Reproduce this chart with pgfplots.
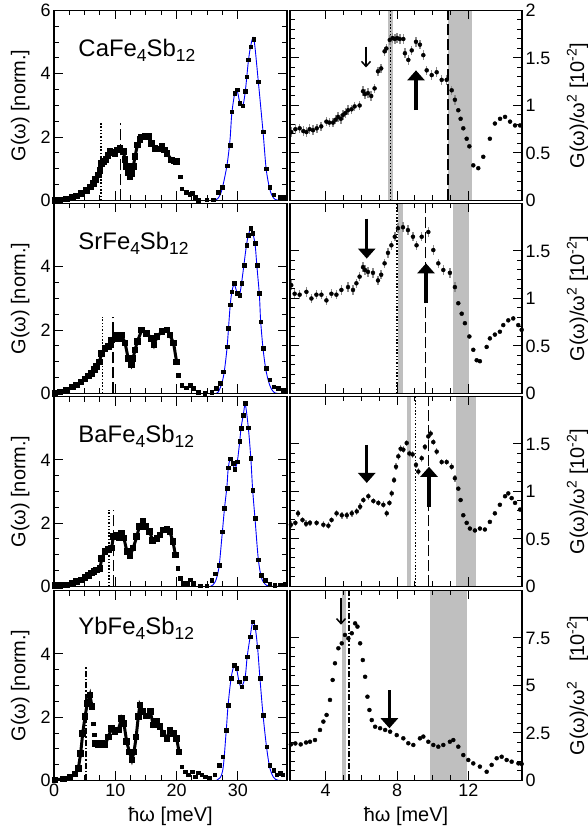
\documentclass[border=0pt]{standalone}
\usepackage{fontspec}
\setmainfont{Liberation Sans}
\usepackage{pgfplots}
\pgfplotsset{compat=1.18}
\usetikzlibrary{arrows.meta}

\newcommand{\sub}[1]{\raisebox{-0.22em}{\fontsize{17.5}{17.5}\selectfont #1}}
\newcommand{\cmp}[1]{\fontsize{24}{24}\selectfont #1Fe\sub{4}Sb\sub{12}}

\tikzset{
  big/.style={line width=3.5bp, -{Triangle[length=10bp,width=17bp]}},
  small/.style={line width=1.5bp, -{Straight Barb[length=5bp,width=9bp]}},
  dsh/.style={line width=1.6bp, dash pattern=on 11bp off 4bp},
  dtt/.style={line width=1.5bp, dash pattern=on 1.5bp off 1.8bp},
  ddt/.style={line width=1.4bp, dash pattern=on 6bp off 2bp on 1.5bp off 2bp},
}

\pgfplotsset{
  panel/.style={
    scale only axis, height=190bp, axis on top,
    axis line style={line width=1.3bp},
    every tick/.style={line width=1bp, black},
    major tick length=9bp, minor tick length=5bp,
    tick label style={font=\fontsize{18}{18}\selectfont},
    label style={font=\fontsize{20}{20}\selectfont},
    /pgf/number format/assume math mode=true,
    ymin=0,
  },
  leftp/.style={panel, width=233bp, xmin=0, xmax=38, ymax=6,
    xtick={0,10,20,30}, minor x tick num=3,
    ytick={0,2,4}, minor y tick num=3,
    ylabel={G(ω) [norm.]},
    ylabel style={at={(axis description cs:-0.145,0.5)}, anchor=center},
  },
  rightp/.style={panel, width=232bp, xmin=2, xmax=15,
    xtick={4,8,12}, minor x tick num=3,
    yticklabel pos=right, ytick pos=both,
    ylabel style={at={(axis description cs:1.24,0.5)}, anchor=center},
  },
  dense/.style={black, line width=3bp, mark=square*, mark size=1.8bp},
  sparse/.style={black, only marks, mark=square*, mark size=1.8bp},
  fit/.style={blue, line width=0.9bp, smooth, no marks},
  pts/.style={black, only marks, mark=*, mark size=2bp},
  errpts/.style={pts, error bars/.cd, y dir=both, y fixed=#1, error mark=none,
    error bar style={black!45, line width=1.5bp}, /pgfplots/.cd},
  errpts/.default=0.05,
}

\begin{document}
\begin{tikzpicture}
\useasboundingbox (0,0) rectangle (588bp,838bp);

% ---------------- row 1: CaFe4Sb12 ----------------
\begin{axis}[leftp, at={(54bp,637.5bp)}, anchor=south west,
  ytick={0,2,4,6}, xticklabels={}]
  \draw[dtt] (axis cs:7.65,0) -- (axis cs:7.65,2.44);
  \draw[dsh] (axis cs:10.85,0) -- (axis cs:10.85,2.44);
  \addplot[dense] coordinates {
    (0.16,0) (1.0,0.02) (2.07,0.05) (3.0,0.1) (3.7,0.14) (4.5,0.22) (5.33,0.31) (6.0,0.42)
    (6.4,0.54) (6.8,0.66) (7.23,0.8) (7.5,0.95) (7.77,1.17) (8.1,1.24) (8.48,1.3) (8.8,1.42)
    (9.13,1.54) (9.5,1.52) (9.95,1.49) (10.4,1.6) (10.77,1.65) (11.3,1.54) (11.6,1.3) (11.86,1.07)
    (12.1,0.88) (12.4,0.75) (12.7,0.85) (12.94,1.07) (13.2,1.38) (13.6,1.75) (14.0,1.93) (14.3,2.0)
    (14.9,2.02) (15.4,2.03) (15.9,1.8) (16.5,1.65) (17.0,1.62) (17.6,1.7) (18.0,1.6) (18.4,1.49)
    (19.2,1.28) (19.6,1.25) (20.0,1.23)};
  \addplot[fit] coordinates {
    (24,0) (26,0) (26.8,0.08) (27.4,0.35) (28.2,1.1) (28.7,1.9) (29.0,2.75) (29.5,3.4) (29.9,3.45)
    (30.3,3.1) (30.8,3.0) (31.2,3.45) (31.7,4.4) (32.1,4.9) (32.6,5.1) (33.3,3.8) (34.1,2.15)
    (34.6,1.0) (35.2,0.35) (35.8,0.08) (36.5,0.01) (38,0)};
  \addplot[sparse] coordinates {
    (20.55,0.75) (20.8,0.37) (21.6,0.26) (22.1,0.2) (22.5,0.23) (23.0,0.1) (23.5,0) (24.9,0.02)
    (26.0,0.02) (26.8,0.26) (27.4,0.42) (28.2,1.1) (28.7,1.75) (29.0,2.8) (29.5,3.39) (29.9,3.5)
    (30.3,3.07) (30.8,2.99) (31.2,3.45) (31.4,3.91) (31.7,4.44) (32.1,4.86) (32.6,5.09) (33.3,3.75)
    (34.1,2.17) (34.6,1.0) (35.2,0.42) (35.8,0.18) (36.9,0.11) (37.4,0.11)};
  \node[anchor=west] at (rel axis cs:0.09,0.79) {\cmp{Ca}};
\end{axis}

\begin{axis}[rightp, at={(290bp,637.5bp)}, anchor=south west,
  ymax=2, ytick={0,0.5,1,1.5,2}, minor y tick num=4, xticklabels={},
  ylabel={G(ω)/ω\textsuperscript{2} [10\textsuperscript{-2}]}]
  \fill[black!25] (axis cs:7.51,0) rectangle (axis cs:7.75,2);
  \fill[black!25] (axis cs:10.85,0) rectangle (axis cs:12.2,2);
  \draw[dtt] (axis cs:7.63,0) -- (axis cs:7.63,2);
  \draw[dsh] (axis cs:10.85,0) -- (axis cs:10.85,2);
  \addplot[errpts] coordinates {
    (2.07,0.72) (2.3,0.75) (2.54,0.76) (2.75,0.73) (2.92,0.72) (3.1,0.75) (3.29,0.74) (3.5,0.76)
    (3.75,0.78) (4.04,0.83) (4.2,0.82) (4.41,0.82) (4.55,0.85) (4.69,0.88) (4.85,0.86) (4.97,0.9)
    (5.1,0.92) (5.25,0.95) (5.45,0.96) (5.62,0.99) (5.9,1.0) (6.09,1.15) (6.2,1.12) (6.37,1.13)
    (6.55,1.1) (6.74,1.18) (6.93,1.36) (7.11,1.39) (7.3,1.57) (7.4,1.6) (7.59,1.69) (7.75,1.71)
    (7.87,1.7) (8.0,1.71) (8.15,1.7) (8.35,1.7) (8.44,1.55) (8.63,1.48) (8.82,1.58) (9.06,1.67)
    (9.28,1.64) (9.47,1.53) (9.66,1.37) (9.94,1.32) (10.22,1.35) (10.5,1.27) (10.78,1.27)
    (11.06,1.16) (11.24,1.06)};
  \addplot[pts] coordinates {
    (11.43,0.95) (11.56,0.86) (11.71,0.76) (11.9,0.65) (12.05,0.57) (12.27,0.37) (12.55,0.34)
    (12.83,0.46) (13.2,0.65) (13.48,0.81) (13.77,0.86) (14.05,0.88) (14.33,0.83) (14.61,0.79)
    (14.89,0.79)};
  \draw[small] (axis cs:6.26,1.62) -- (axis cs:6.26,1.4);
  \draw[big] (axis cs:9.06,0.95) -- (axis cs:9.06,1.37);
\end{axis}

% ---------------- row 2: SrFe4Sb12 ----------------
\begin{axis}[leftp, at={(54bp,444.5bp)}, anchor=south west, xticklabels={}]
  \draw[dtt] (axis cs:7.95,0) -- (axis cs:7.95,2.4);
  \draw[dsh] (axis cs:9.6,0) -- (axis cs:9.6,2.4);
  \addplot[dense] coordinates {
    (0.16,0) (1.0,0.05) (2.07,0.11) (3.0,0.2) (3.7,0.27) (4.4,0.36) (5.06,0.46) (5.6,0.55)
    (6.15,0.64) (6.6,0.75) (6.96,0.85) (7.39,1.0) (7.78,1.27) (8.32,1.43) (8.86,1.48) (9.4,1.69)
    (9.95,1.85) (10.5,1.74) (11.0,1.85) (11.6,1.59) (12.1,1.11) (12.6,0.9) (12.9,1.11) (13.2,1.37)
    (13.6,1.64) (14.3,2.0) (15.1,1.9) (15.9,1.74) (16.3,1.53) (16.8,1.8) (17.6,1.95) (18.4,2.0)
    (18.9,1.85) (19.5,1.59) (20.0,1.0)};
  \addplot[fit] coordinates {
    (24,0) (26,0) (26.8,0.05) (27.6,0.5) (28.2,1.4) (28.7,2.7) (29.0,3.2) (29.4,3.45) (29.9,3.15)
    (30.3,3.15) (30.6,3.5) (31.0,4.1) (31.4,4.7) (31.7,5.0) (32.1,5.22) (32.4,5.08) (32.8,4.7)
    (33.1,4.0) (33.5,3.1) (33.7,2.3) (34.1,1.4) (34.6,0.7) (35.2,0.25) (35.8,0.05) (36.5,0) (38,0)};
  \addplot[sparse] coordinates {
    (20.3,0.58) (20.8,0.27) (21.6,0.18) (22.2,0.27) (22.7,0.16) (23.5,0.05) (24.6,0) (25.7,0.05)
    (26.5,0.16) (27.1,0.32) (27.6,0.69) (28.2,1.48) (28.4,2.06) (28.7,2.8) (29.0,3.22) (29.4,3.48)
    (29.9,3.17) (30.3,3.11) (30.6,3.48) (31.0,4.06) (31.4,4.69) (31.7,5.0) (32.1,5.22) (32.4,5.06)
    (32.8,4.74) (33.1,4.06) (33.5,3.17) (33.7,2.27) (34.1,1.43) (34.6,0.8) (35.2,0.43) (35.8,0.22)
    (36.6,0.16) (37.4,0.11)};
  \node[anchor=west] at (rel axis cs:0.09,0.79) {\cmp{Sr}};
\end{axis}

\begin{axis}[rightp, at={(290bp,444.5bp)}, anchor=south west,
  ymax=2, ytick={0,0.5,1,1.5}, minor y tick num=4, xticklabels={},
  ylabel={G(ω)/ω\textsuperscript{2} [10\textsuperscript{-2}]}]
  \fill[black!25] (axis cs:8.07,0) rectangle (axis cs:8.35,2);
  \fill[black!25] (axis cs:11.15,0) rectangle (axis cs:12.05,2);
  \draw[dtt] (axis cs:8.0,0) -- (axis cs:8.0,2);
  \draw[dsh] (axis cs:9.6,0) -- (axis cs:9.6,2);
  \addplot[errpts] coordinates {
    (2.07,1.14) (2.26,1.05) (2.54,1.04) (2.92,1.07) (3.2,1.0) (3.48,1.04) (3.76,1.04) (4.04,0.98)
    (4.32,1.05) (4.6,1.04) (4.88,1.09) (5.25,1.12) (5.53,1.09) (5.72,1.16) (5.9,1.23) (6.09,1.33)
    (6.2,1.3) (6.37,1.28) (6.65,1.27) (6.93,1.19) (7.11,1.25) (7.3,1.37) (7.49,1.48) (7.68,1.56)
    (7.87,1.65) (8.05,1.74) (8.33,1.75) (8.61,1.72) (8.89,1.65) (9.09,1.56) (9.38,1.65) (9.75,1.70)
    (10.03,1.51) (10.31,1.37) (10.59,1.3) (10.96,1.27) (11.24,1.12)};
  \addplot[pts] coordinates {
    (11.43,0.95) (11.62,0.84) (11.8,0.74) (12.05,0.6) (12.27,0.46) (12.46,0.35) (12.64,0.34)
    (13.02,0.49) (13.2,0.58) (13.48,0.62) (13.76,0.65) (13.95,0.72) (14.23,0.77) (14.51,0.79)
    (14.79,0.72) (14.98,0.67)};
  \draw[big] (axis cs:6.3,1.84) -- (axis cs:6.3,1.42);
  \draw[big] (axis cs:9.62,0.95) -- (axis cs:9.62,1.37);
\end{axis}

% ---------------- row 3: BaFe4Sb12 ----------------
\begin{axis}[leftp, at={(54bp,251.5bp)}, anchor=south west, xticklabels={}]
  \draw[dtt] (axis cs:9.0,0) -- (axis cs:9.0,2.42);
  \draw[dsh] (axis cs:9.7,0) -- (axis cs:9.7,2.42);
  \addplot[dense] coordinates {
    (0.16,0.03) (1.0,0.04) (2.07,0.05) (3.0,0.1) (3.7,0.15) (4.4,0.2) (5.06,0.28) (5.6,0.35)
    (6.15,0.42) (6.5,0.48) (6.96,0.52) (7.5,0.57) (7.78,0.89) (8.32,1.1) (8.86,1.16) (9.4,1.21)
    (9.67,1.57) (10.1,1.63) (10.6,1.55) (11.0,1.68) (11.4,1.53) (11.9,1.1) (12.4,0.97) (12.9,1.21)
    (13.5,1.57) (13.9,1.89) (14.5,2.07) (15.0,1.89) (15.6,1.73) (16.1,1.45) (16.8,1.52) (17.3,1.63)
    (17.9,1.79) (18.4,1.82) (18.9,1.73) (19.4,1.42) (19.8,1.0)};
  \addplot[fit] coordinates {
    (24,0) (25.5,0) (26.3,0.15) (26.9,0.6) (27.4,1.6) (27.8,2.45) (28.2,3.15) (28.4,3.7) (28.7,4.0)
    (29.2,3.85) (29.5,3.72) (29.9,3.95) (30.3,4.6) (30.5,5.0) (30.9,5.45) (31.2,5.75) (31.7,5.0)
    (32.1,4.05) (32.4,3.05) (32.8,2.1) (33.3,0.9) (33.8,0.3) (34.4,0.08) (35.2,0.01) (38,0)};
  \addplot[sparse] coordinates {
    (20.2,0.57) (20.6,0.26) (21.1,0.1) (21.7,0.1) (22.2,0.22) (22.7,0.1) (23.8,0.02) (24.9,0.02)
    (25.7,0.2) (26.3,0.41) (26.9,0.68) (27.4,1.73) (27.8,2.47) (28.2,3.1) (28.4,3.75) (28.7,4.03)
    (29.2,3.89) (29.5,3.71) (29.9,3.94) (30.3,4.59) (30.5,5.0) (30.9,5.41) (31.2,5.78) (31.7,5.02)
    (32.1,4.05) (32.4,3.05) (32.8,2.15) (33.3,0.84) (33.8,0.36) (34.4,0.2) (35.2,0.07) (36.0,0.05)
    (36.9,0.06) (37.7,0.08)};
  \node[anchor=west] at (rel axis cs:0.09,0.79) {\cmp{Ba}};
\end{axis}

\begin{axis}[rightp, at={(290bp,251.5bp)}, anchor=south west,
  ymax=2, ytick={0,0.5,1,1.5}, minor y tick num=4, xticklabels={},
  ylabel={G(ω)/ω\textsuperscript{2} [10\textsuperscript{-2}]}]
  \fill[black!25] (axis cs:8.54,0) rectangle (axis cs:8.78,2);
  \fill[black!25] (axis cs:11.28,0) rectangle (axis cs:12.42,2);
  \draw[dtt] (axis cs:9.02,0) -- (axis cs:9.02,2);
  \draw[dsh] (axis cs:9.75,0) -- (axis cs:9.75,2);
  \addplot[errpts=0.035] coordinates {
    (2.05,0.65) (2.3,0.67) (2.45,0.77) (2.7,0.7) (2.9,0.66) (3.12,0.67) (3.49,0.67) (3.87,0.65)
    (4.15,0.64) (4.33,0.7) (4.61,0.77) (4.9,0.75) (5.18,0.75) (5.46,0.77) (5.74,0.79) (5.93,0.84)
    (6.11,0.91) (6.39,0.95) (6.67,0.9) (6.95,0.88) (7.23,0.86) (7.42,0.77) (7.57,0.88) (7.7,0.98)
    (7.83,1.12) (7.94,1.26) (8.07,1.37) (8.2,1.45) (8.35,1.44) (8.54,1.51) (8.69,1.40) (8.87,1.39)
    (9.06,1.28) (9.19,1.21) (9.38,1.35) (9.56,1.47) (9.75,1.58) (9.88,1.61) (10.03,1.52)
    (10.22,1.42) (10.5,1.31) (10.78,1.31) (11.06,1.26) (11.24,1.14)};
  \addplot[pts] coordinates {
    (11.43,1.03) (11.56,0.91) (11.71,0.75) (11.9,0.67) (12.08,0.61) (12.36,0.59) (12.64,0.61)
    (12.92,0.6) (13.2,0.68) (13.48,0.77) (13.76,0.86) (14.05,0.95) (14.23,0.98) (14.42,0.93)
    (14.61,0.88) (14.89,0.81)};
  \draw[big] (axis cs:6.3,1.49) -- (axis cs:6.3,1.09);
  \draw[big] (axis cs:9.79,0.84) -- (axis cs:9.79,1.26);
\end{axis}

% ---------------- row 4: YbFe4Sb12 ----------------
\begin{axis}[leftp, at={(54bp,57.5bp)}, anchor=south west,
  xlabel={ħω [meV]},
  xlabel style={at={(axis description cs:0.5,-0.19)}, anchor=center}]
  \draw[ddt] (axis cs:5.25,0) -- (axis cs:5.25,3.6);
  \addplot[dense] coordinates {
    (0.16,0.02) (1.52,0.05) (2.6,0.1) (3.43,0.2) (3.97,0.38) (4.35,0.86) (4.68,1.49) (5.06,2.02)
    (5.44,2.44) (5.87,2.7) (6.2,2.33)};
  \addplot[sparse] coordinates {(6.4,1.8) (6.55,1.45) (6.69,1.17)};
  \addplot[dense] coordinates {
    (6.69,1.17) (7.23,1.12) (7.78,1.17) (8.32,1.12) (8.86,1.38) (9.4,1.65) (9.95,1.54) (10.5,1.6)
    (11.0,1.96) (11.4,1.8) (11.85,1.23) (12.3,0.9) (12.7,0.65) (13.05,0.9) (13.4,1.38) (13.75,2.02)
    (14.0,2.38) (14.5,2.17) (15.1,2.04) (15.7,2.17) (16.2,1.75) (16.75,1.86) (17.3,1.7) (17.8,1.49)
    (18.4,1.33) (18.9,1.6) (19.5,1.49) (20.0,1.33) (20.4,0.9)};
  \addplot[fit] coordinates {
    (24,0) (26.5,0) (27.5,0.3) (28.06,1.5) (28.4,2.4) (28.9,3.25) (29.4,3.65) (29.8,3.5) (30.2,3.1)
    (30.6,2.95) (31.2,3.3) (31.5,3.9) (32.0,4.55) (32.4,5.0) (32.8,4.85) (33.2,4.2) (33.6,3.2)
    (34.1,2.05) (34.7,1.0) (35.2,0.4) (35.8,0.1) (36.5,0.01) (38,0)};
  \addplot[sparse] coordinates {
    (20.8,0.44) (21.4,0.28) (21.9,0.18) (22.5,0.28) (23.0,0.12) (23.5,0.25) (24.1,0.18) (24.6,0.12)
    (25.4,0.07) (26.2,0.18) (26.97,0.49) (27.5,0.75) (28.06,1.59) (28.4,2.38) (28.9,3.23) (29.4,3.65)
    (29.8,3.54) (30.2,3.12) (30.6,2.96) (31.2,3.23) (31.5,3.91) (32.0,4.54) (32.4,5.01) (32.8,4.85)
    (33.2,4.22) (33.6,3.23) (34.1,2.07) (34.7,1.07) (35.2,0.49) (35.8,0.33) (36.3,0.18) (36.9,0.23)
    (37.3,0.18)};
  \node[anchor=west] at (rel axis cs:0.09,0.8) {\cmp{Yb}};
\end{axis}

\begin{axis}[rightp, at={(290bp,57.5bp)}, anchor=south west,
  ymax=10, ytick={0,2.5,5,7.5}, minor y tick num=4,
  xlabel={ħω [meV]},
  xlabel style={at={(axis description cs:0.5,-0.19)}, anchor=center},
  ylabel={G(ω)/ω\textsuperscript{2}\quad[10\textsuperscript{-2}]}]
  \fill[black!25] (axis cs:4.9,0) rectangle (axis cs:5.14,10);
  \fill[black!25] (axis cs:9.84,0) rectangle (axis cs:11.9,10);
  \draw[ddt] (axis cs:5.3,0) -- (axis cs:5.3,10);
  \addplot[pts] coordinates {
    (2.05,1.9) (2.3,1.95) (2.6,1.9) (2.9,2.0) (3.12,2.04) (3.4,2.13) (3.68,2.66) (3.87,3.1)
    (4.05,3.45) (4.24,4.24) (4.39,5.29) (4.52,6.17) (4.71,6.96) (4.9,7.22) (5.08,7.66) (5.27,7.48)
    (5.46,7.75) (5.65,8.27) (5.78,8.1) (5.93,7.22) (6.08,6.34) (6.21,5.46) (6.34,4.41) (6.45,3.71)
    (6.58,3.18) (6.77,2.83) (7.05,2.75) (7.33,2.66) (7.61,2.57) (7.98,2.39) (8.35,2.22) (8.63,1.96)
    (8.91,1.87) (9.28,2.22) (9.47,2.31) (9.75,2.04) (10.03,1.87) (10.31,1.78) (10.59,1.87)
    (10.96,2.04) (11.15,2.13) (11.43,1.78) (11.71,1.34) (11.99,1.08) (12.27,0.9) (12.64,0.73)
    (13.02,0.46) (13.3,0.82) (13.58,1.17) (13.86,1.25) (14.14,1.08) (14.42,0.99) (14.8,0.9)
    (14.98,0.87)};
  \draw[small] (axis cs:4.86,9.6) -- (axis cs:4.86,8.2);
  \draw[big] (axis cs:7.57,4.76) -- (axis cs:7.57,2.75);
\end{axis}
\end{tikzpicture}
\end{document}
